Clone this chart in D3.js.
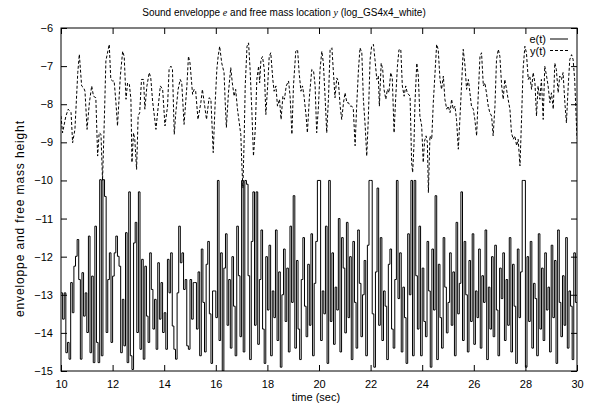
<!DOCTYPE html>
<html><head><meta charset="utf-8">
<script src="https://cdn.jsdelivr.net/npm/d3@7"></script>
<style>
body{margin:0;background:#fff}
svg text{font-family:"Liberation Sans",Arial,sans-serif;font-size:11px;fill:#000}
</style></head>
<body><svg id="chart" width="589" height="409"></svg>
<script>
// ---------- data ----------
const xTicks = [10,12,14,16,18,20,22,24,26,28,30];
const yTicks = [-15,-14,-13,-12,-11,-10,-9,-8,-7,-6];
const seriesNames = ["e(t)","y(t)"];

// y(t): free mass location (time, value)
const yTime = [10.0,10.06,10.19,10.28,10.39,10.45,10.54,10.65,10.71,10.80,10.88,10.93,11.01,11.10,11.19,11.26,11.35,11.42,11.48,11.55,11.61,11.68,11.74,11.87,11.93,12.0,12.06,12.13,12.19,12.30,12.39,12.45,12.52,12.58,12.65,12.71,12.75,12.81,12.86,12.93,12.99,13.05,13.12,13.20,13.25,13.33,13.42,13.48,13.55,13.68,13.77,13.85,13.94,14.03,14.13,14.19,14.26,14.32,14.39,14.45,14.54,14.62,14.68,14.77,14.88,14.94,15.0,15.10,15.16,15.22,15.31,15.42,15.48,15.57,15.64,15.74,15.81,15.90,15.97,16.04,16.09,16.15,16.23,16.32,16.36,16.41,16.49,16.58,16.64,16.71,16.77,16.84,16.97,
17.01,17.05,17.10,17.14,17.21,17.27,17.33,17.40,17.46,17.53,17.59,17.66,17.70,17.75,17.81,17.88,17.94,18.01,18.07,18.13,18.21,18.26,18.33,18.39,18.47,18.53,18.60,18.66,18.73,18.82,18.88,18.95,19.01,19.10,19.17,19.23,19.30,19.36,19.42,19.50,19.55,19.63,19.72,19.79,19.85,19.91,19.98,20.04,20.11,20.17,20.24,20.30,20.37,20.43,20.50,20.56,20.62,20.69,20.75,20.82,20.88,20.95,21.01,21.08,21.14,21.21,21.27,21.33,21.40,21.46,21.53,21.59,21.66,21.72,21.79,21.85,21.91,21.98,22.04,22.11,22.17,22.24,22.30,22.34,22.41,22.47,22.52,22.59,22.65,22.71,22.78,22.84,22.91,22.97,23.04,23.10,23.17,23.23,23.30,23.36,23.42,23.53,
23.59,23.63,23.68,23.72,23.79,23.85,23.91,23.98,24.04,24.09,24.15,24.20,24.24,24.30,24.37,24.43,24.49,24.56,24.62,24.69,24.75,24.82,24.88,24.95,25.01,25.08,25.14,25.20,25.27,25.33,25.40,25.46,25.53,25.59,25.66,25.72,25.79,25.85,25.91,25.98,26.04,26.11,26.17,26.24,26.30,26.37,26.43,26.49,26.56,26.62,26.69,26.75,26.82,26.88,26.95,27.01,27.08,27.14,27.20,27.27,27.33,27.40,27.46,27.53,27.59,27.66,27.72,27.79,27.85,27.91,27.98,28.04,28.11,28.17,28.24,28.30,28.37,28.43,28.49,28.56,28.62,28.69,28.75,28.82,28.88,28.95,29.01,29.08,29.14,29.20,29.27,29.33,29.40,29.46,29.53,29.59,29.66,29.72,29.79,29.85,29.91,30.0];
const yVals = [-8.31,-8.75,-8.31,-8.13,-8.22,-9.01,-8.66,-7.17,-6.69,-7.52,-7.57,-7.66,-8.66,-7.96,-7.52,-7.79,-7.83,-9.36,-8.75,-8.79,-10.0,-8.4,-6.86,-6.43,-7.35,-7.39,-7.39,-7.96,-8.57,-7.26,-6.61,-6.75,-7.87,-7.44,-7.48,-7.87,-9.53,-8.75,-8.92,-9.71,-8.31,-8.22,-7.35,-7.35,-8.13,-7.52,-7.17,-7.31,-7.92,-8.66,-8.05,-7.52,-7.61,-8.57,-8.05,-7.09,-7.0,-7.09,-8.79,-8.22,-7.61,-7.35,-7.44,-8.53,-7.52,-6.74,-6.92,-7.74,-7.61,-7.66,-8.40,-7.96,-7.61,-8.05,-8.40,-7.83,-7.87,-9.27,-8.05,-7.09,-6.75,-6.48,-6.92,-7.17,-7.87,-8.61,-7.70,-7.04,-7.44,-7.79,-7.61,-8.13,-8.8,
-9.6,-10.2,-8.9,-7.52,-6.48,-6.39,-7.09,-8.22,-9.36,-8.66,-7.35,-7.0,-7.44,-6.83,-6.75,-7.09,-8.27,-7.52,-6.75,-6.65,-7.35,-7.66,-7.52,-8.05,-7.87,-8.40,-7.79,-7.87,-7.52,-7.39,-7.79,-8.79,-7.52,-6.61,-6.57,-7.17,-7.66,-7.52,-7.79,-8.31,-8.75,-7.79,-7.09,-7.13,-7.52,-8.75,-8.05,-7.09,-6.61,-6.92,-7.87,-8.75,-7.79,-6.57,-6.52,-7.17,-7.83,-7.31,-7.39,-8.05,-8.40,-7.96,-7.70,-7.96,-7.96,-8.05,-8.05,-8.13,-9.09,-8.05,-7.09,-6.52,-6.65,-7.87,-8.57,-9.36,-8.40,-6.83,-6.48,-6.43,-6.83,-7.35,-7.26,-8.05,-6.92,-7.09,-7.61,-7.87,-7.61,-7.70,-7.17,-7.31,-8.75,-7.87,-7.00,-6.57,-6.56,-7.52,-7.79,-7.52,-7.70,-7.79,
-9.53,-9.79,-9.09,-7.96,-6.92,-7.26,-8.31,-8.57,-9.53,-8.97,-8.83,-9.0,-10.32,-8.83,-8.92,-7.96,-7.26,-6.43,-6.56,-7.35,-7.61,-7.26,-7.87,-8.13,-8.05,-8.22,-7.87,-8.13,-8.05,-8.40,-9.18,-8.40,-7.44,-6.56,-7.0,-7.61,-7.35,-7.70,-8.05,-8.13,-8.40,-8.83,-7.79,-6.74,-6.65,-7.52,-7.44,-7.70,-8.05,-8.22,-8.31,-8.83,-8.05,-6.83,-6.56,-6.74,-7.52,-7.87,-7.35,-7.61,-7.87,-8.13,-8.75,-8.92,-8.83,-9.09,-8.92,-9.62,-8.40,-7.09,-6.48,-6.65,-7.35,-7.26,-7.61,-7.17,-7.44,-8.31,-7.52,-7.87,-7.35,-8.40,-7.0,-7.26,-7.52,-7.96,-7.70,-8.13,-6.92,-7.09,-7.70,-7.26,-7.35,-7.17,-7.96,-8.49,-7.52,-6.83,-6.70,-6.83,-7.35,-8.9];

// e(t): sound envelope, step values starting at eStart with step eStep
const eStart = 10, eStep = 0.0625;
const eVals = [-12.95,-13.64,-12.95,-14.52,-14.25,-14.69,-12.68,-13.47,-12.25,-11.99,-11.55,-12.6,-14.69,-12.42,-13.56,-12.95,-13.99,-11.46,-14.52,-12.51,-14.78,-11.2,-14.25,-14.78,-9.98,-14.6,-9.98,-10.42,-13.99,-12.6,-11.9,-14.25,-12.51,-11.9,-11.46,-11.99,-12.25,-14.52,-13.12,-14.34,-11.37,-14.78,-10.3,-14.6,-14.96,-11.64,-11.1,-13.99,-10.3,-14.43,-12.07,-14.69,-12.25,-13.56,-14.25,-11.9,-12.86,-13.9,-13.12,-14.43,-12.16,-13.64,-12.68,-13.99,-13.47,-14.43,-12.07,-12.95,-11.9,-13.82,-14.43,-14.69,-12.95,-11.2,-12.16,-11.9,-12.86,-12.6,-14.34,-14.43,-12.6,-13.64,-12.68,-12.68,
-13.9,-12.4,-14.6,-11.8,-13.2,-14.5,-12.2,-11.6,-13.5,-14.8,-12.9,-12.9,-13.6,-10.0,-14.2,-11.9,
-15.0,-12.3,-11.4,-13.8,-12.6,-14.4,-12.0,-13.3,-14.6,-11.2,-12.5,-14.1,-10.0,-14.5,-10.0,-10.1,
-12.5,-14.7,-11.6,-10.3,-13.8,-10.3,-14.3,-12.6,-11.3,-13.9,-14.8,-12.0,-13.4,-11.7,-14.6,-12.9,
-13.6,-11.3,-14.2,-12.4,-14.9,-13.0,-11.8,-13.7,-12.3,-14.5,-11.2,-13.2,-10.4,-14.4,-12.1,-13.9,
-14.7,-12.6,-11.5,-13.3,-14.1,-12.2,-13.8,-11.4,-14.6,-12.7,-11.6,-10.0,-10.0,-14.2,-12.9,-13.5,
-11.2,-14.8,-10.0,-13.7,-11.9,-14.3,-12.8,-13.4,-11.0,-14.5,-11.5,-12.3,-14.0,-11.1,-13.6,-12.0,
-14.7,-11.6,-13.2,-14.4,-11.3,-12.7,-14.1,-13.0,-12.1,-14.6,-11.7,-10.0,-10.0,-13.5,-14.9,-12.4,
-10.2,-13.8,-11.5,-14.2,-12.9,-13.3,-14.7,-12.2,-11.8,-13.9,-14.4,-12.6,-10.0,-13.1,-11.9,-14.5,
-12.8,-13.6,-14.8,-11.4,-13.0,-10.0,-14.6,-10.0,-12.5,-13.9,-11.2,-14.6,-12.3,-13.7,-14.1,-11.6,
-12.9,-14.9,-11.8,-13.4,-10.4,-14.7,-12.2,-13.6,-14.4,-11.5,-12.8,-14.0,-13.2,-11.9,-13.8,-12.4,
-14.6,-11.1,-13.5,-12.7,-10.3,-14.2,-11.6,-13.0,-14.5,-12.1,-13.7,-11.4,-14.3,-12.9,-13.6,-11.8,
-14.4,-12.5,-13.2,-11.3,-14.7,-12.8,-13.9,-12.0,-14.1,-11.7,-13.4,-14.6,-12.3,-13.1,-11.9,-14.2,
-12.6,-13.8,-11.5,-14.5,-12.2,-13.3,-14.8,-11.8,-13.6,-12.4,-10.0,-10.0,-14.9,-12.0,-13.7,-11.6,
-14.4,-12.7,-13.1,-14.6,-11.4,-13.9,-12.3,-14.2,-11.9,-13.4,-12.8,-14.5,-11.7,-13.6,-12.1,-14.8,
-11.3,-13.2,-14.1,-12.5,-13.8,-11.5,-14.4,-12.9,-13.3,-14.7,-11.9,-13.2];

// ---------- drawing ----------
const svg = d3.select("#chart");
const L = 61, R = 577, T = 28, B = 371;
const x = d3.scaleLinear().domain([10,30]).range([L,R]);
const y = d3.scaleLinear().domain([-15,-6]).range([B,T]);

// ticks (gnuplot style, inward, mirrored)
const tk = 6;
svg.append("g").attr("transform",`translate(0,${B})`)
  .call(d3.axisBottom(x).tickValues(xTicks).tickSize(-tk).tickPadding(9).tickFormat(d3.format("d")))
  .call(g=>g.select(".domain").remove());
svg.append("g").attr("transform",`translate(0,${T})`)
  .call(d3.axisTop(x).tickValues(xTicks).tickSize(-tk).tickFormat(""))
  .call(g=>g.select(".domain").remove());
svg.append("g").attr("transform",`translate(${L},0)`)
  .call(d3.axisLeft(y).tickValues(yTicks).tickSize(-tk).tickPadding(8).tickFormat(d3.format("d")))
  .call(g=>g.select(".domain").remove());
svg.append("g").attr("transform",`translate(${R},0)`)
  .call(d3.axisRight(y).tickValues(yTicks).tickSize(-tk).tickFormat(""))
  .call(g=>g.select(".domain").remove());
svg.selectAll(".tick line").attr("stroke","#000");
svg.selectAll(".tick text").style("font-family",'"Liberation Sans",Arial,sans-serif').style("font-size","11px").attr("fill","#000");

// e(t) step line
const ePts = eVals.map((v,i)=>[eStart+i*eStep, v]);
ePts.push([30, eVals[eVals.length-1]]);
svg.append("clipPath").attr("id","clip").append("rect")
  .attr("x",L).attr("y",T).attr("width",R-L).attr("height",B-T);
const plot = svg.append("g").attr("clip-path","url(#clip)");
plot.append("path").datum(ePts)
  .attr("fill","none").attr("stroke","#000").attr("stroke-width",1)
  .attr("d", d3.line().x(d=>x(d[0])).y(d=>y(d[1])).curve(d3.curveStepAfter));

// y(t) dashed line
plot.append("path").datum(yTime.map((t,i)=>[t,yVals[i]]))
  .attr("fill","none").attr("stroke","#000").attr("stroke-width",1).attr("stroke-dasharray","3,2")
  .attr("d", d3.line().x(d=>x(d[0])).y(d=>y(d[1])));

// frame
svg.append("rect").attr("x",L).attr("y",T).attr("width",R-L).attr("height",B-T)
  .attr("fill","none").attr("stroke","#000").attr("stroke-width",1);

// legend
const leg = svg.append("g");
seriesNames.forEach((n,i)=>{
  const yy = 39 + i*11.5;
  leg.append("text").attr("x",546).attr("y",yy+4).attr("text-anchor","end").text(n);
  leg.append("line").attr("x1",550).attr("x2",568).attr("y1",yy).attr("y2",yy)
    .attr("stroke","#000").attr("stroke-width",1).attr("stroke-dasharray", i===1?"3,2":null);
});

// title
const title = svg.append("text").attr("x",284).attr("y",16).attr("text-anchor","middle").style("font-size","10px");
title.append("tspan").text("Sound enveloppe ");
title.append("tspan").style("font-family",'"Liberation Serif","DejaVu Serif",serif').style("font-style","italic").text("e");
title.append("tspan").text(" and free mass location ");
title.append("tspan").style("font-family",'"Liberation Serif","DejaVu Serif",serif').style("font-style","italic").text("y");
title.append("tspan").text(" (log_GS4x4_white)");

// axis labels
svg.append("text").attr("x",(L+R)/2-3).attr("y",401).attr("text-anchor","middle").text("time (sec)");
svg.append("text").attr("transform","translate(24,219) rotate(-90)").attr("text-anchor","middle")
  .style("font-size","12px").attr("textLength",196).attr("lengthAdjust","spacing").text("enveloppe and free mass height");
</script></body></html>
